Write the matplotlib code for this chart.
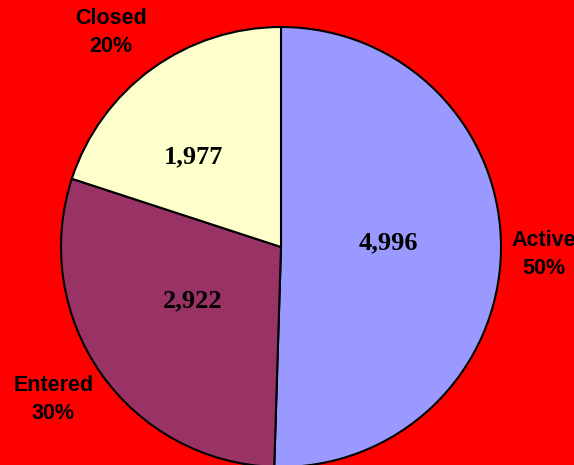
import numpy as np
import matplotlib
matplotlib.use('Agg')
import matplotlib.pyplot as plt

# data
categories = ['Active', 'Entered', 'Closed']
counts = [4996, 2922, 1977]
pct_labels = ['50%', '30%', '20%']

colors = ['#9999FF', '#993366', '#FFFFCC']
# label radius / angle nudge (degrees), purely layout
label_r = [1.195, 1.245, 1.245]
label_da = [-0.8, -1.3, 2.5]
value_r = [0.49, 0.47, 0.57]
value_da = [3.0, -4.0, 8.0]

fig = plt.figure(figsize=(5.74, 4.65), dpi=100, facecolor='#FF0000')
W, H = 574, 465
cx, cy, R = 281, 247, 220
ax = fig.add_axes([(cx - R) / W, (H - cy - R) / H, 2 * R / W, 2 * R / H])
ax.set_facecolor('#FF0000')

wedges, _ = ax.pie(counts, colors=colors, startangle=90, counterclock=False,
                   wedgeprops=dict(edgecolor='black', linewidth=1.5))
ax.set_xlim(-1, 1)
ax.set_ylim(-1, 1)
ax.set_aspect('equal')
ax.axis('off')

for i, w in enumerate(wedges):
    mid = (w.theta1 + w.theta2) / 2
    a = np.deg2rad(mid + label_da[i])
    ax.text(label_r[i] * np.cos(a), label_r[i] * np.sin(a),
            f'{categories[i]}\n{pct_labels[i]}', ha='center', va='center',
            fontsize=15.5, fontweight='bold', family='Liberation Sans',
            linespacing=1.45, clip_on=False)
    b = np.deg2rad(mid + value_da[i])
    ax.text(value_r[i] * np.cos(b), value_r[i] * np.sin(b), f'{counts[i]:,}',
            ha='center', va='center', fontsize=19, fontweight='bold',
            family='Liberation Serif')

fig.savefig('out.png', dpi=100, facecolor=fig.get_facecolor())
